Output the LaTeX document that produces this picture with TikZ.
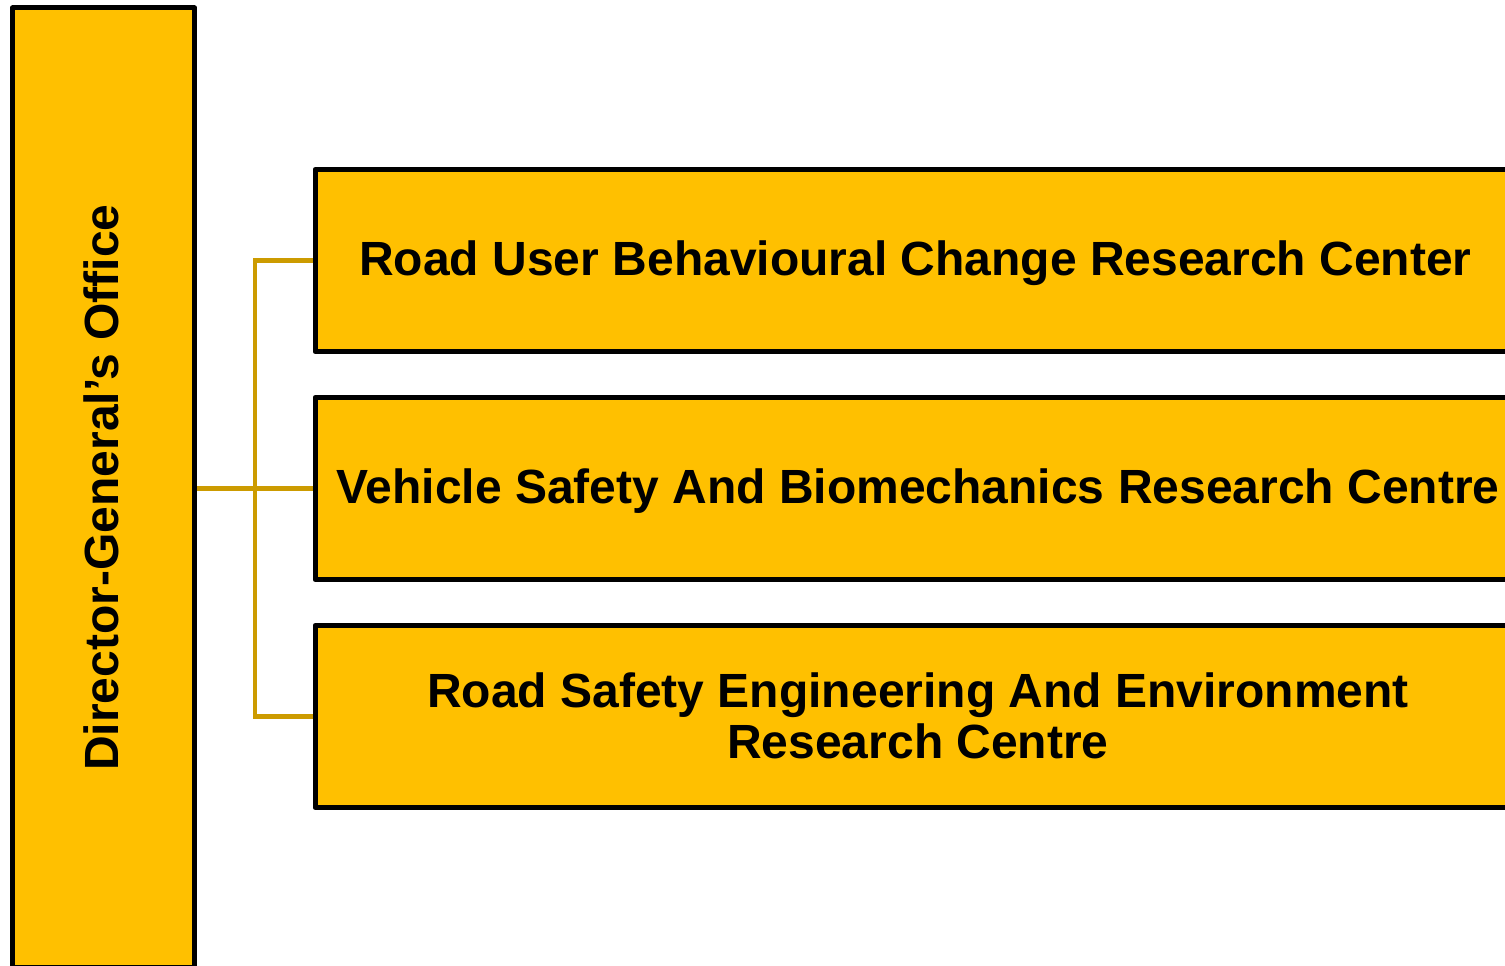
\documentclass[tikz,border=0pt]{standalone}
\usepackage{fontspec}
\setmainfont{Liberation Sans}
\definecolor{boxfill}{HTML}{FFC000}
\definecolor{conncol}{HTML}{CC9B00}
\begin{document}
\begin{tikzpicture}[x=1pt,y=1pt,
  unitbox/.style={draw=black, line width=5pt, fill=boxfill, rectangle, inner sep=0pt, line join=round},
  lbl/.style={font=\fontsize{48}{51}\selectfont\bfseries, align=center, text=black},
  conn/.style={draw=conncol, line width=4.5pt}]
\useasboundingbox (0,0) rectangle (1505,966);
\clip (0,0) rectangle (1505,966);
\node[unitbox, minimum width=182pt, minimum height=960pt] (dg) at (103.5,478) {};
\node[lbl, rotate=90] (dgt) at (101,478.5) {Director-General’s Office};
\node[unitbox, minimum width=1204pt, minimum height=182pt] (b1) at (917,705.5) {};
\node[unitbox, minimum width=1204pt, minimum height=182pt] (b2) at (917,477.5) {};
\node[unitbox, minimum width=1204pt, minimum height=182pt] (b3) at (917,249.5) {};
\node[lbl] (t1) at (915.5,703) {Road User Behavioural Change Research Center};
\node[lbl] (t2) at (918,475) {Vehicle Safety And Biomechanics Research Centre};
\node[lbl] (t3) at (918,250) {Road Safety Engineering And Environment\\Research Centre};
\coordinate (tr) at (255,477.5);
\draw[conn] (dg.east |- b2.west) -- (b2.west);
\draw[conn] (b1.west) -- (b1.west -| tr) -- (b3.west -| tr) -- (b3.west);
\end{tikzpicture}
\end{document}
